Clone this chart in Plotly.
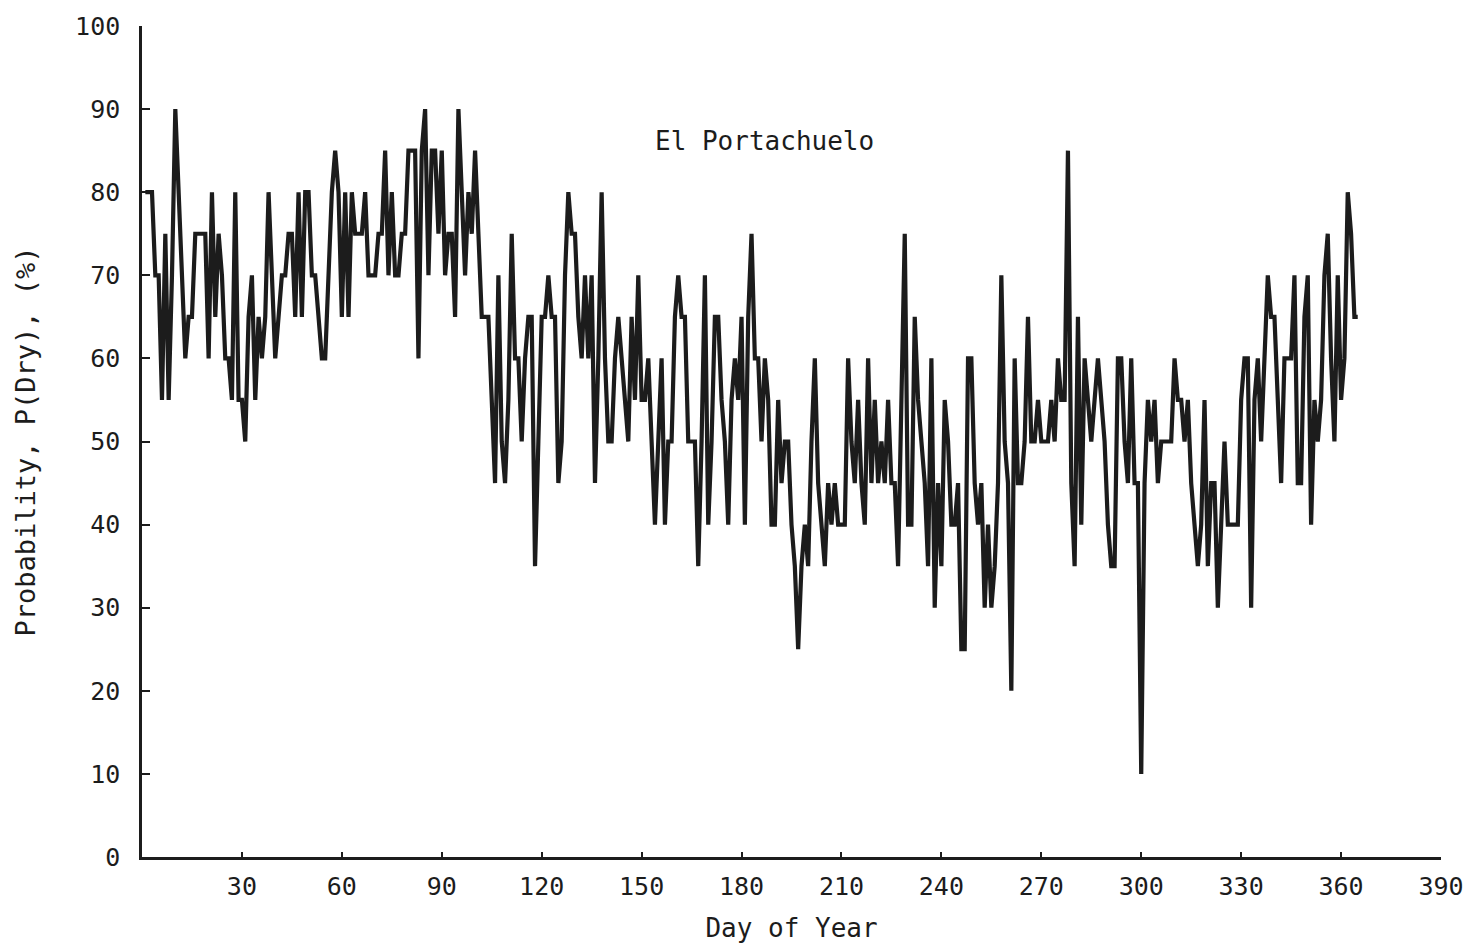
import plotly.graph_objects as go

# Daily probability of a dry day (%) at El Portachuelo, days 1-365
p_dry = [
    80, 80, 80, 70, 70, 55, 75, 55, 70, 90,
    80, 70, 60, 65, 65, 75, 75, 75, 75, 60,
    80, 65, 75, 70, 60, 60, 55, 80, 55, 55,
    50, 65, 70, 55, 65, 60, 65, 80, 70, 60,
    65, 70, 70, 75, 75, 65, 80, 65, 80, 80,
    70, 70, 65, 60, 60, 70, 80, 85, 80, 65,
    80, 65, 80, 75, 75, 75, 80, 70, 70, 70,
    75, 75, 85, 70, 80, 70, 70, 75, 75, 85,
    85, 85, 60, 85, 90, 70, 85, 85, 75, 85,
    70, 75, 75, 65, 90, 80, 70, 80, 75, 85,
    75, 65, 65, 65, 55, 45, 70, 50, 45, 55,
    75, 60, 60, 50, 60, 65, 65, 35, 50, 65,
    65, 70, 65, 65, 45, 50, 70, 80, 75, 75,
    65, 60, 70, 60, 70, 45, 60, 80, 60, 50,
    50, 60, 65, 60, 55, 50, 65, 55, 70, 55,
    55, 60, 50, 40, 50, 60, 40, 50, 50, 65,
    70, 65, 65, 50, 50, 50, 35, 50, 70, 40,
    50, 65, 65, 55, 50, 40, 55, 60, 55, 65,
    40, 65, 75, 60, 60, 50, 60, 55, 40, 40,
    55, 45, 50, 50, 40, 35, 25, 35, 40, 35,
    50, 60, 45, 40, 35, 45, 40, 45, 40, 40,
    40, 60, 50, 45, 55, 45, 40, 60, 45, 55,
    45, 50, 45, 55, 45, 45, 35, 55, 75, 40,
    40, 65, 55, 50, 45, 35, 60, 30, 45, 35,
    55, 50, 40, 40, 45, 25, 25, 60, 60, 45,
    40, 45, 30, 40, 30, 35, 45, 70, 50, 45,
    20, 60, 45, 45, 50, 65, 50, 50, 55, 50,
    50, 50, 55, 50, 60, 55, 55, 85, 45, 35,
    65, 40, 60, 55, 50, 55, 60, 55, 50, 40,
    35, 35, 60, 60, 50, 45, 60, 45, 45, 10,
    45, 55, 50, 55, 45, 50, 50, 50, 50, 60,
    55, 55, 50, 55, 45, 40, 35, 40, 55, 35,
    45, 45, 30, 40, 50, 40, 40, 40, 40, 55,
    60, 60, 30, 55, 60, 50, 60, 70, 65, 65,
    55, 45, 60, 60, 60, 70, 45, 45, 65, 70,
    40, 55, 50, 55, 70, 75, 60, 50, 70, 55,
    60, 80, 75, 65, 65,
]
days = list(range(1, len(p_dry) + 1))

x_ticks = [30, 60, 90, 120, 150, 180, 210, 240, 270, 300, 330, 360, 390]
y_ticks = [0, 10, 20, 30, 40, 50, 60, 70, 80, 90, 100]

station = "El Portachuelo"
x_title = "Day of Year"
y_title = "Probability, P(Dry), (%)"

FONT = "DejaVu Sans Mono"
INK = "#1c1c1c"

fig = go.Figure()
fig.add_trace(go.Scatter(
    x=days, y=p_dry, mode="lines",
    line=dict(color=INK, width=4.2),
    hoverinfo="x+y", showlegend=False,
))

fig.add_annotation(
    x=187, y=86.2, xref="x", yref="y", text=station, showarrow=False,
    font=dict(family=FONT, size=26, color=INK),
)

fig.update_layout(
    width=1476, height=951,
    margin=dict(l=142, r=29, t=25, b=91),
    paper_bgcolor="white", plot_bgcolor="white",
    font=dict(family=FONT, size=25, color=INK),
    xaxis=dict(
        range=[0, 390], tickvals=x_ticks, ticktext=[str(v) for v in x_ticks],
        showgrid=False, zeroline=False, showline=True, linecolor=INK, linewidth=2.5,
        ticks="inside", ticklen=5, tickwidth=2, tickcolor=INK,
        tickfont=dict(family=FONT, size=25, color=INK), ticklabelstandoff=5,
        title=dict(text=x_title, font=dict(family=FONT, size=26, color=INK), standoff=20),
    ),
    yaxis=dict(
        range=[0, 100], tickvals=y_ticks, ticktext=[str(v) for v in y_ticks],
        showgrid=False, zeroline=False, showline=True, linecolor=INK, linewidth=2.5,
        ticks="inside", ticklen=8, tickwidth=2, tickcolor=INK,
        tickfont=dict(family=FONT, size=25, color=INK), ticklabelstandoff=14,
        title=dict(text=y_title, font=dict(family=FONT, size=27, color=INK), standoff=32),
    ),
)

fig.write_html("out.html")
